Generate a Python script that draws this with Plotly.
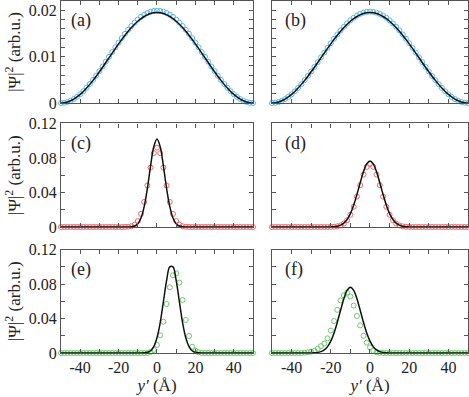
import plotly.graph_objects as go

# ---------------- data ----------------
y_prime = [-50.0, -48.33, -46.67, -45.0, -43.33, -41.67, -40.0, -38.33, -36.67, -35.0,
           -33.33, -31.67, -30.0, -28.33, -26.67, -25.0, -23.33, -21.67, -20.0, -18.33,
           -16.67, -15.0, -13.33, -11.67, -10.0, -8.33, -6.67, -5.0, -3.33, -1.67,
           0.0,
           1.67, 3.33, 5.0, 6.67, 8.33, 10.0, 11.67, 13.33, 15.0, 16.67,
           18.33, 20.0, 21.67, 23.33, 25.0, 26.67, 28.33, 30.0, 31.67, 33.33,
           35.0, 36.67, 38.33, 40.0, 41.67, 43.33, 45.0, 46.67, 48.33, 50.0]

# (a)
circ_a = [0, 0.00005, 0.00022, 0.00049, 0.00086, 0.00133, 0.00190, 0.00256, 0.00329, 0.00410,
          0.00498, 0.00590, 0.00688, 0.00788, 0.00891, 0.00995, 0.01099, 0.01202, 0.01302, 0.01400,
          0.01493, 0.01580, 0.01661, 0.01734, 0.01800, 0.01857, 0.01904, 0.01941, 0.01968, 0.01985,
          0.01990,
          0.01985, 0.01968, 0.01941, 0.01904, 0.01857, 0.01800, 0.01734, 0.01661, 0.01580, 0.01493,
          0.01400, 0.01302, 0.01202, 0.01099, 0.00995, 0.00891, 0.00788, 0.00688, 0.00590, 0.00498,
          0.00410, 0.00329, 0.00256, 0.00190, 0.00133, 0.00086, 0.00049, 0.00022, 0.00005, 0]
line_a = [0, 0.00005, 0.00021, 0.00048, 0.00084, 0.00131, 0.00186, 0.00250, 0.00323, 0.00402,
          0.00488, 0.00578, 0.00674, 0.00772, 0.00873, 0.00975, 0.01077, 0.01178, 0.01276, 0.01372,
          0.01463, 0.01548, 0.01627, 0.01700, 0.01764, 0.01819, 0.01866, 0.01902, 0.01929, 0.01945,
          0.01950,
          0.01945, 0.01929, 0.01902, 0.01866, 0.01819, 0.01764, 0.01700, 0.01627, 0.01548, 0.01463,
          0.01372, 0.01276, 0.01178, 0.01077, 0.00975, 0.00873, 0.00772, 0.00674, 0.00578, 0.00488,
          0.00402, 0.00323, 0.00250, 0.00186, 0.00131, 0.00084, 0.00048, 0.00021, 0.00005, 0]
# (b)
circ_b = [0, 0.00005, 0.00022, 0.00048, 0.00085, 0.00132, 0.00188, 0.00253, 0.00326, 0.00406,
          0.00493, 0.00584, 0.00681, 0.00780, 0.00882, 0.00985, 0.01088, 0.01190, 0.01289, 0.01386,
          0.01478, 0.01564, 0.01644, 0.01717, 0.01782, 0.01838, 0.01885, 0.01922, 0.01948, 0.01965,
          0.01970,
          0.01965, 0.01948, 0.01922, 0.01885, 0.01838, 0.01782, 0.01717, 0.01644, 0.01564, 0.01478,
          0.01386, 0.01289, 0.01190, 0.01088, 0.00985, 0.00882, 0.00780, 0.00681, 0.00584, 0.00493,
          0.00406, 0.00326, 0.00253, 0.00188, 0.00132, 0.00085, 0.00048, 0.00022, 0.00005, 0]
line_b = [0, 0.00005, 0.00021, 0.00048, 0.00084, 0.00131, 0.00186, 0.00250, 0.00323, 0.00402,
          0.00488, 0.00578, 0.00674, 0.00772, 0.00873, 0.00975, 0.01077, 0.01178, 0.01276, 0.01372,
          0.01463, 0.01548, 0.01627, 0.01700, 0.01764, 0.01819, 0.01866, 0.01902, 0.01929, 0.01945,
          0.01950,
          0.01945, 0.01929, 0.01902, 0.01866, 0.01819, 0.01764, 0.01700, 0.01627, 0.01548, 0.01463,
          0.01372, 0.01276, 0.01178, 0.01077, 0.00975, 0.00873, 0.00772, 0.00674, 0.00578, 0.00488,
          0.00402, 0.00323, 0.00250, 0.00186, 0.00131, 0.00084, 0.00048, 0.00021, 0.00005, 0]
# (c)
circ_c = [0, 0, 0, 0, 0, 0, 0, 0, 0, 0,
          0, 0, 0, 0, 0, 0, 0, 0, 0, 0,
          0.00007, 0.00027, 0.00091, 0.00268, 0.00685, 0.01515, 0.0290, 0.0481, 0.0689, 0.0856,
          0.0920,
          0.0856, 0.0689, 0.0481, 0.0290, 0.01515, 0.00685, 0.00268, 0.00091, 0.00027, 0.00007,
          0, 0, 0, 0, 0, 0, 0, 0, 0, 0,
          0, 0, 0, 0, 0, 0, 0, 0, 0, 0]
line_c = [0, 0, 0, 0, 0, 0, 0, 0, 0, 0,
          0, 0, 0, 0, 0, 0, 0, 0, 0, 0,
          0, 0.00006, 0.0003, 0.00116, 0.00381, 0.0104, 0.02366, 0.0448, 0.0708, 0.0931,
          0.102,
          0.0931, 0.0708, 0.0448, 0.02366, 0.0104, 0.00381, 0.00116, 0.0003, 0.00006, 0,
          0, 0, 0, 0, 0, 0, 0, 0, 0, 0,
          0, 0, 0, 0, 0, 0, 0, 0, 0, 0]
# (d)
circ_d = [0, 0, 0, 0, 0, 0, 0, 0, 0, 0,
          0, 0, 0, 0, 0, 0, 0, 0,
          0.0001, 0.0003, 0.00077, 0.00183, 0.00396, 0.00784, 0.01417, 0.0234, 0.0352, 0.0485, 0.0608, 0.0697,
          0.0730,
          0.0697, 0.0608, 0.0485, 0.0352, 0.0234, 0.01417, 0.00784, 0.00396, 0.00183, 0.00077, 0.0003, 0.0001,
          0, 0, 0, 0, 0, 0, 0, 0,
          0, 0, 0, 0, 0, 0, 0, 0, 0, 0]
line_d = [0, 0, 0, 0, 0, 0, 0, 0, 0, 0,
          0, 0, 0, 0, 0, 0, 0,
          0.00004, 0.00013, 0.00036, 0.00091, 0.00211, 0.00449, 0.00873, 0.01552, 0.0253, 0.0377, 0.0513, 0.0641, 0.0732,
          0.0765,
          0.0732, 0.0641, 0.0513, 0.0377, 0.0253, 0.01552, 0.00873, 0.00449, 0.00211, 0.00091, 0.00036, 0.00013, 0.00004,
          0, 0, 0, 0, 0, 0, 0,
          0, 0, 0, 0, 0, 0, 0, 0, 0, 0]
# (e)
circ_e = [0, 0, 0, 0, 0, 0, 0, 0, 0, 0,
          0, 0, 0, 0, 0, 0, 0, 0, 0, 0,
          0, 0, 0, 0, 0, 0, 0, 0,
          0.0012, 0.0035, 0.0093, 0.0205, 0.0363, 0.0568, 0.0762, 0.0900, 0.0924, 0.0816,
          0.0615, 0.0383, 0.0197, 0.0073, 0.0027, 0.0008,
          0, 0, 0, 0, 0, 0, 0,
          0, 0, 0, 0, 0, 0, 0, 0, 0, 0]
line_e = [0, 0, 0, 0, 0, 0, 0, 0, 0, 0,
          0, 0, 0, 0, 0, 0, 0, 0, 0, 0,
          0, 0, 0, 0, 0, 0,
          0.0002, 0.00077, 0.0026, 0.0074, 0.0176, 0.0352, 0.0593, 0.0839, 0.0998, 0.0998,
          0.0839, 0.0593, 0.0352, 0.0176, 0.0074, 0.0026, 0.00077, 0.0002,
          0, 0, 0, 0, 0, 0, 0,
          0, 0, 0, 0, 0, 0, 0, 0, 0, 0]
# (f)
circ_f = [0, 0, 0, 0, 0, 0, 0, 0, 0, 0,
          0.0003, 0.0008, 0.0015, 0.0027, 0.0050, 0.0080, 0.0110, 0.0170, 0.0260, 0.0370,
          0.0500, 0.0610, 0.0670, 0.0700, 0.0655, 0.0550, 0.0430, 0.0320, 0.0200, 0.0120,
          0.0065, 0.0025, 0.0010, 0.0003,
          0, 0, 0, 0, 0, 0, 0,
          0, 0, 0, 0, 0, 0, 0, 0, 0, 0,
          0, 0, 0, 0, 0, 0, 0, 0, 0, 0]
line_f = [0, 0, 0, 0, 0, 0, 0, 0, 0, 0,
          0, 0,
          0.00008, 0.00024, 0.00065, 0.00161, 0.00361, 0.00738, 0.0137, 0.0232, 0.0356, 0.0496,
          0.0630, 0.0726, 0.0762, 0.0726, 0.0630, 0.0496, 0.0356, 0.0232, 0.0137, 0.00738,
          0.00361, 0.00161, 0.00065, 0.00024, 0.00008,
          0, 0, 0,
          0, 0, 0, 0, 0, 0, 0, 0, 0, 0,
          0, 0, 0, 0, 0, 0, 0, 0, 0, 0, 0]

panel_labels = ["(a)", "(b)", "(c)", "(d)", "(e)", "(f)"]
x_tick_vals = [-40, -20, 0, 20, 40]
x_tick_text = ["-40", "-20", "0", "20", "40"]
x_minor_vals = [-30, -10, 10, 30]
y_top_tick_vals = [0, 0.01, 0.02]
y_top_tick_text = ["0", "0.01", "0.02"]
y_top_minor_vals = [0.002, 0.004, 0.006, 0.008, 0.012, 0.014, 0.016, 0.018]
y_low_tick_vals = [0, 0.04, 0.08, 0.12]
y_low_tick_text = ["0", "0.04", "0.08", "0.12"]
y_low_minor_vals = [0.02, 0.06, 0.10]

series = [(circ_a, line_a), (circ_b, line_b), (circ_c, line_c),
          (circ_d, line_d), (circ_e, line_e), (circ_f, line_f)]
for c, l in series:
    assert len(c) == len(y_prime) and len(l) == len(y_prime), (len(c), len(l))

marker_colors = ["#5cb8e6", "#5cb8e6", "#ec6a6a", "#ec6a6a", "#6acb6a", "#6acb6a"]

# ---------------- figure ----------------
FONT = "'Liberation Serif', 'Times New Roman', Times, serif"
fig = go.Figure()

for i, (circ, line) in enumerate(series):
    n = i + 1
    xa = "x" if n == 1 else f"x{n}"
    ya = "y" if n == 1 else f"y{n}"
    fig.add_trace(go.Scatter(x=y_prime, y=circ, mode="markers", xaxis=xa, yaxis=ya,
                             marker=dict(symbol="circle-open", size=5, color=marker_colors[i],
                                         line=dict(width=1, color=marker_colors[i])),
                             cliponaxis=False, showlegend=False, hoverinfo="skip"))
    fig.add_trace(go.Scatter(x=y_prime, y=line, mode="lines", xaxis=xa, yaxis=ya,
                             line=dict(color="#111111", width=1.5, shape="spline", smoothing=1.0),
                             showlegend=False, hoverinfo="skip"))

x_dom = [[0.0, 0.4717], [0.5184, 1.0]]
y_dom = [[0.7102, 1.0], [0.358, 0.652], [0.0, 0.294]]

axis_common = dict(showline=True, linecolor="#555555", linewidth=1.2, mirror="allticks",
                   ticks="inside", ticklen=4, tickwidth=1, tickcolor="#555555",
                   showgrid=False, zeroline=False, automargin=False,
                   tickfont=dict(family=FONT, size=16, color="#222222"))

layout = {}
for i in range(6):
    n = i + 1
    row, col = i // 2, i % 2
    xkey = "xaxis" if n == 1 else f"xaxis{n}"
    ykey = "yaxis" if n == 1 else f"yaxis{n}"
    xd = dict(axis_common, domain=x_dom[col], range=[-50, 50],
              anchor="y" if n == 1 else f"y{n}",
              tickmode="array", tickvals=x_tick_vals, ticktext=x_tick_text,
              minor=dict(tickmode="array", tickvals=x_minor_vals, ticks="inside",
                         ticklen=4, tickcolor="#555555"),
              showticklabels=(row == 2))
    if row == 2:
        xd["title"] = dict(text="<i>y\u2032</i> (Å)", font=dict(family=FONT, size=17, color="#222222"),
                           standoff=3)
    if row == 0:
        yt, ytt, ym, yr = y_top_tick_vals, y_top_tick_text, y_top_minor_vals, [0, 0.022]
    else:
        yt, ytt, ym, yr = y_low_tick_vals, y_low_tick_text, y_low_minor_vals, [0, 0.12]
    yd = dict(axis_common, domain=y_dom[row], range=yr,
              anchor="x" if n == 1 else f"x{n}",
              tickmode="array", tickvals=yt, ticktext=ytt,
              minor=dict(tickmode="array", tickvals=ym, ticks="inside",
                         ticklen=4, tickcolor="#555555"),
              showticklabels=(col == 0))
    if col == 0:
        yd["title"] = dict(text="|\u03a8|<sup>2</sup> (arb.u.)",
                           font=dict(family=FONT, size=17, color="#222222"), standoff=3)
    layout[xkey] = xd
    layout[ykey] = yd

annotations = []
for i, lab in enumerate(panel_labels):
    n = i + 1
    col = i % 2
    annotations.append(dict(text=lab, xref=("x" if n == 1 else f"x{n}") + " domain",
                            yref=("y" if n == 1 else f"y{n}") + " domain",
                            x=0.042 if col == 0 else 0.056, y=0.81,
                            xanchor="left", yanchor="middle", showarrow=False,
                            font=dict(family=FONT, size=18, color="#222222")))

fig.update_layout(**layout)
fig.update_layout(width=469, height=397, margin=dict(l=61, r=1, t=1, b=44),
                  paper_bgcolor="white", plot_bgcolor="white",
                  annotations=annotations, showlegend=False)

fig.write_html("out.html", config={"displayModeBar": False},
               post_script="document.body.style.margin='0';")
